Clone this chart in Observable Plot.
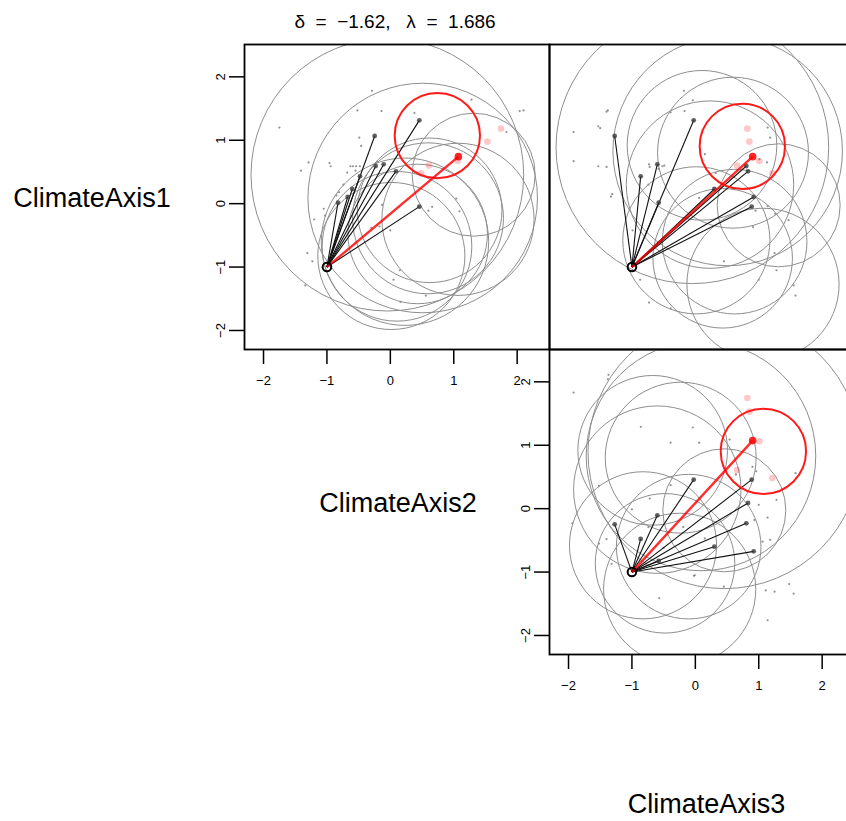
<!DOCTYPE html>
<html>
<head>
<meta charset="utf-8">
<script src="https://cdn.jsdelivr.net/npm/d3@7"></script>
<script src="https://cdn.jsdelivr.net/npm/@observablehq/plot@0.6"></script>
<style>
  html, body { margin: 0; padding: 0; background: #fff; }
  body { width: 846px; height: 821px; overflow: hidden; }
  #fig { position: relative; width: 846px; height: 821px; font-family: "Liberation Sans", Arial, Helvetica, sans-serif; }
  #fig svg text { font-size: 13px; }
  .lab { position: absolute; transform: translate(-50%, -50%); white-space: pre; color: #000; line-height: 0.8; }
</style>
</head>
<body>
<div id="fig"></div>
<script>
// ---------- data ----------
const axisNames = ["ClimateAxis1", "ClimateAxis2", "ClimateAxis3"];
const tickValues = [-2, -1, 0, 1, 2];
const axisDomain = [-2.3, 2.51];
const titleText = "δ  =  −1.62,   λ  =  1.686";

// focal point
const focalPoint = {A1: -1, A2: -1, A3: -1};

// neighbour points (3-D) and their sphere radii
const neighA1 = [1.314, 1.067, 0.620, 0.594, 0.510, 0.431, 0.231, 0.105, 0.016, -0.047];
const neighA2 = [0.457, -0.247, -0.105, -0.231, 0.089, -0.478, -0.600, -0.673, -0.825, 0.457];
const neighA3 = [-0.026, -1.272, -0.599, 0.804, 0.831, -0.862, 0.300, 0.920, -0.578, 0.889];
const neighRadius = [0.97, 1.20, 1.14, 1.19, 1.81, 1.10, 1.32, 1.18, 1.16, 2.15];

// selected (red) point and radius
const bestA1 = [0.741];
const bestA2 = [1.073];
const bestA3 = [0.904];
const bestRadius = [0.673];

// faint red points
const pinkA1 = [1.183, 0.978, 0.600, 0.673, 0.478];
const pinkA2 = [1.745, 1.530, 0.610, 1.062, 0.484];
const pinkA3 = [0.820, 0.852, 0.657, 1.010, 1.214];

// background points per panel [x, y]
const bgAxis2vs1 = [[-0.29,1.78],[-1.75,1.20],[-0.52,1.47],[-0.14,1.46],[0.38,1.43],[1.28,1.64],[2.04,1.46],[2.10,1.47],[1.83,1.13],[-0.49,1.04],[-0.46,0.91],[-0.96,0.64],[-0.94,0.59],[-1.29,0.65],[-1.41,0.52],[-0.63,0.59],[-0.59,0.59],[-0.54,0.59],[-0.48,0.59],[-0.21,0.66],[-0.68,0.49],[-0.55,0.52],[-0.74,0.30],[-0.81,0.18],[-0.85,0.13],[-1.05,-0.08],[-1.20,-0.25],[-1.03,-0.19],[-0.13,-0.02],[0.66,-0.05],[0.60,-0.11],[1.04,0.08],[1.09,-0.12],[0.00,-0.42],[-0.17,-0.36],[-0.30,-0.38],[-1.31,-0.78],[-1.23,-0.91],[-1.34,-1.29],[0.15,-1.05],[0.05,-1.20],[0.56,-1.45],[0.16,-1.55]];
const bgAxis3vs1 = [[-0.18,1.78],[-0.04,1.63],[-1.38,1.47],[-1.40,1.45],[-0.17,1.46],[-0.39,1.44],[-1.53,1.22],[-1.50,1.19],[-1.92,1.13],[1.14,1.20],[1.18,1.04],[0.15,0.78],[-1.92,0.67],[-1.53,0.59],[-1.40,0.58],[-0.73,0.62],[-0.72,0.58],[-0.52,0.59],[-0.49,0.60],[-0.58,0.55],[1.01,0.70],[1.13,0.65],[-1.31,0.15],[-1.33,0.11],[-0.74,0.30],[0.06,0.09],[0.32,0.48],[0.95,-0.11],[1.14,-0.04],[1.26,-0.16],[1.47,-0.26],[0.91,-0.37],[-0.99,-0.42],[0.45,-0.91],[1.25,-0.78],[1.28,-1.05],[1.00,-1.20],[1.58,-1.45],[1.55,-1.29],[-0.87,-1.20],[-0.73,-1.56],[-0.39,-1.65]];
const bgAxis3vs2 = [[-1.37,2.11],[-1.38,2.04],[-1.92,1.83],[-0.86,1.29],[-0.04,1.28],[-0.39,1.04],[0.06,1.04],[0.54,1.09],[0.90,0.66],[0.96,0.59],[0.64,0.54],[1.58,0.56],[1.28,0.14],[1.00,0.06],[1.14,-0.14],[0.93,-0.18],[-1.52,0.36],[-0.72,0.16],[-1.00,-0.01],[-0.39,0.37],[-0.74,-0.29],[-0.19,-0.29],[0.15,-0.47],[-1.40,-0.48],[-1.52,-0.55],[-1.32,-0.87],[-0.50,-0.62],[-1.94,-0.23],[1.06,-0.52],[1.18,-0.49],[0.45,-1.23],[-0.01,-1.05],[-0.02,-1.06],[1.11,-1.29],[1.25,-1.31],[1.48,-1.19],[1.55,-1.34],[-0.57,-1.41],[1.14,-1.76]];

// ---------- tables ----------
const neighbours = neighA1.map((a1, i) => ({A1: a1, A2: neighA2[i], A3: neighA3[i], r: neighRadius[i]}));
const best = bestA1.map((a1, i) => ({A1: a1, A2: bestA2[i], A3: bestA3[i], r: bestRadius[i]}));
const pink = pinkA1.map((a1, i) => ({A1: a1, A2: pinkA2[i], A3: pinkA3[i]}));

// ---------- layout ----------
const cell = 305;
const colX = [-61, 244, 549];
const rowY = [44, 349, 654];
const FONT = '"Liberation Sans", Arial, Helvetica, sans-serif';
const fmt = d => (d < 0 ? "\u2212" + Math.abs(d) : String(d));
const fig = document.getElementById("fig");

function panel({xVar, yVar, bg, col, row, axes}) {
  const mL = 45, mT = 5, mR = 5, mB = 50;
  const pxPerUnit = cell / (axisDomain[1] - axisDomain[0]);
  const marks = [
    Plot.dot(bg, {x: d => d[0], y: d => d[1], r: 1.1, fill: "#6e6e6e", fillOpacity: 0.75, clip: true}),
    Plot.dot(neighbours, {x: d => d[yVar], y: d => d[xVar], r: d => d.r, stroke: "#8e8e8e", strokeWidth: 1, fill: "none", clip: true}),
    Plot.link(neighbours, {x1: () => focalPoint[xVar], y1: () => focalPoint[yVar], x2: d => d[xVar], y2: d => d[yVar], stroke: "#111", strokeWidth: 1.1, clip: true}),
    Plot.dot(neighbours, {x: d => d[xVar], y: d => d[yVar], r: 2.4, fill: "#3a3a3a", fillOpacity: 0.8, clip: true}),
    Plot.dot(pink, {x: d => d[xVar], y: d => d[yVar], r: 3.3, fill: "#ff0000", fillOpacity: 0.22, clip: true}),
    Plot.dot(best, {x: d => d[yVar], y: d => d[xVar], r: d => d.r, stroke: "#ff1a1a", strokeWidth: 2, fill: "none", clip: true}),
    Plot.link(best, {x1: () => focalPoint[xVar], y1: () => focalPoint[yVar], x2: d => d[xVar], y2: d => d[yVar], stroke: "#ff0000", strokeWidth: 2.4, strokeOpacity: 0.82, clip: true}),
    Plot.dot(best, {x: d => d[xVar], y: d => d[yVar], r: 3.8, fill: "#ff0000", fillOpacity: 0.85, clip: true}),
    Plot.dot([focalPoint], {x: d => d[xVar], y: d => d[yVar], r: 4.3, stroke: "#000", strokeWidth: 2, fill: "none"}),
    Plot.frame({stroke: "#000", strokeWidth: 1.8})
  ];
  if (axes) {
    marks.push(
      Plot.axisX(tickValues, {anchor: "bottom", tickSize: 15, tickPadding: 11, tickFormat: fmt, fontSize: 13, strokeWidth: 1.5, label: null}),
      Plot.axisY(tickValues, {anchor: "left", tickSize: 15, tickPadding: 5, tickRotate: -90, tickFormat: fmt, fontSize: 13, strokeWidth: 1.5, label: null})
    );
  }
  const svg = Plot.plot({
    width: cell + mL + mR,
    height: cell + mT + mB,
    marginLeft: mL, marginRight: mR, marginTop: mT, marginBottom: mB,
    x: {domain: axisDomain, axis: null},
    y: {domain: axisDomain, axis: null},
    r: {type: "linear", domain: [0, 1], range: [0, pxPerUnit]},
    style: {overflow: "visible", background: "transparent", fontFamily: FONT, fontSize: "13px", color: "#000"},
    marks
  });
  svg.style.position = "absolute";
  svg.style.left = (colX[col] - mL) + "px";
  svg.style.top = (rowY[row] - mT) + "px";
  fig.appendChild(svg);
}

panel({xVar: "A2", yVar: "A1", bg: bgAxis2vs1, col: 1, row: 0, axes: true});
panel({xVar: "A3", yVar: "A1", bg: bgAxis3vs1, col: 2, row: 0, axes: false});
panel({xVar: "A3", yVar: "A2", bg: bgAxis3vs2, col: 2, row: 1, axes: true});

function label(text, x, y, size) {
  const el = document.createElement("div");
  el.className = "lab";
  el.textContent = text;
  el.style.left = x + "px";
  el.style.top = y + "px";
  el.style.fontSize = size + "px";
  fig.appendChild(el);
}
const labelShift = [[0.5, 2.5], [1.5, 2.5], [5, -2]];
axisNames.forEach((name, i) => label(name, colX[i] + cell / 2 + labelShift[i][0], rowY[i] + cell / 2 + labelShift[i][1], 27));
label(titleText, 395, 21.5, 19);
</script>
</body>
</html>
